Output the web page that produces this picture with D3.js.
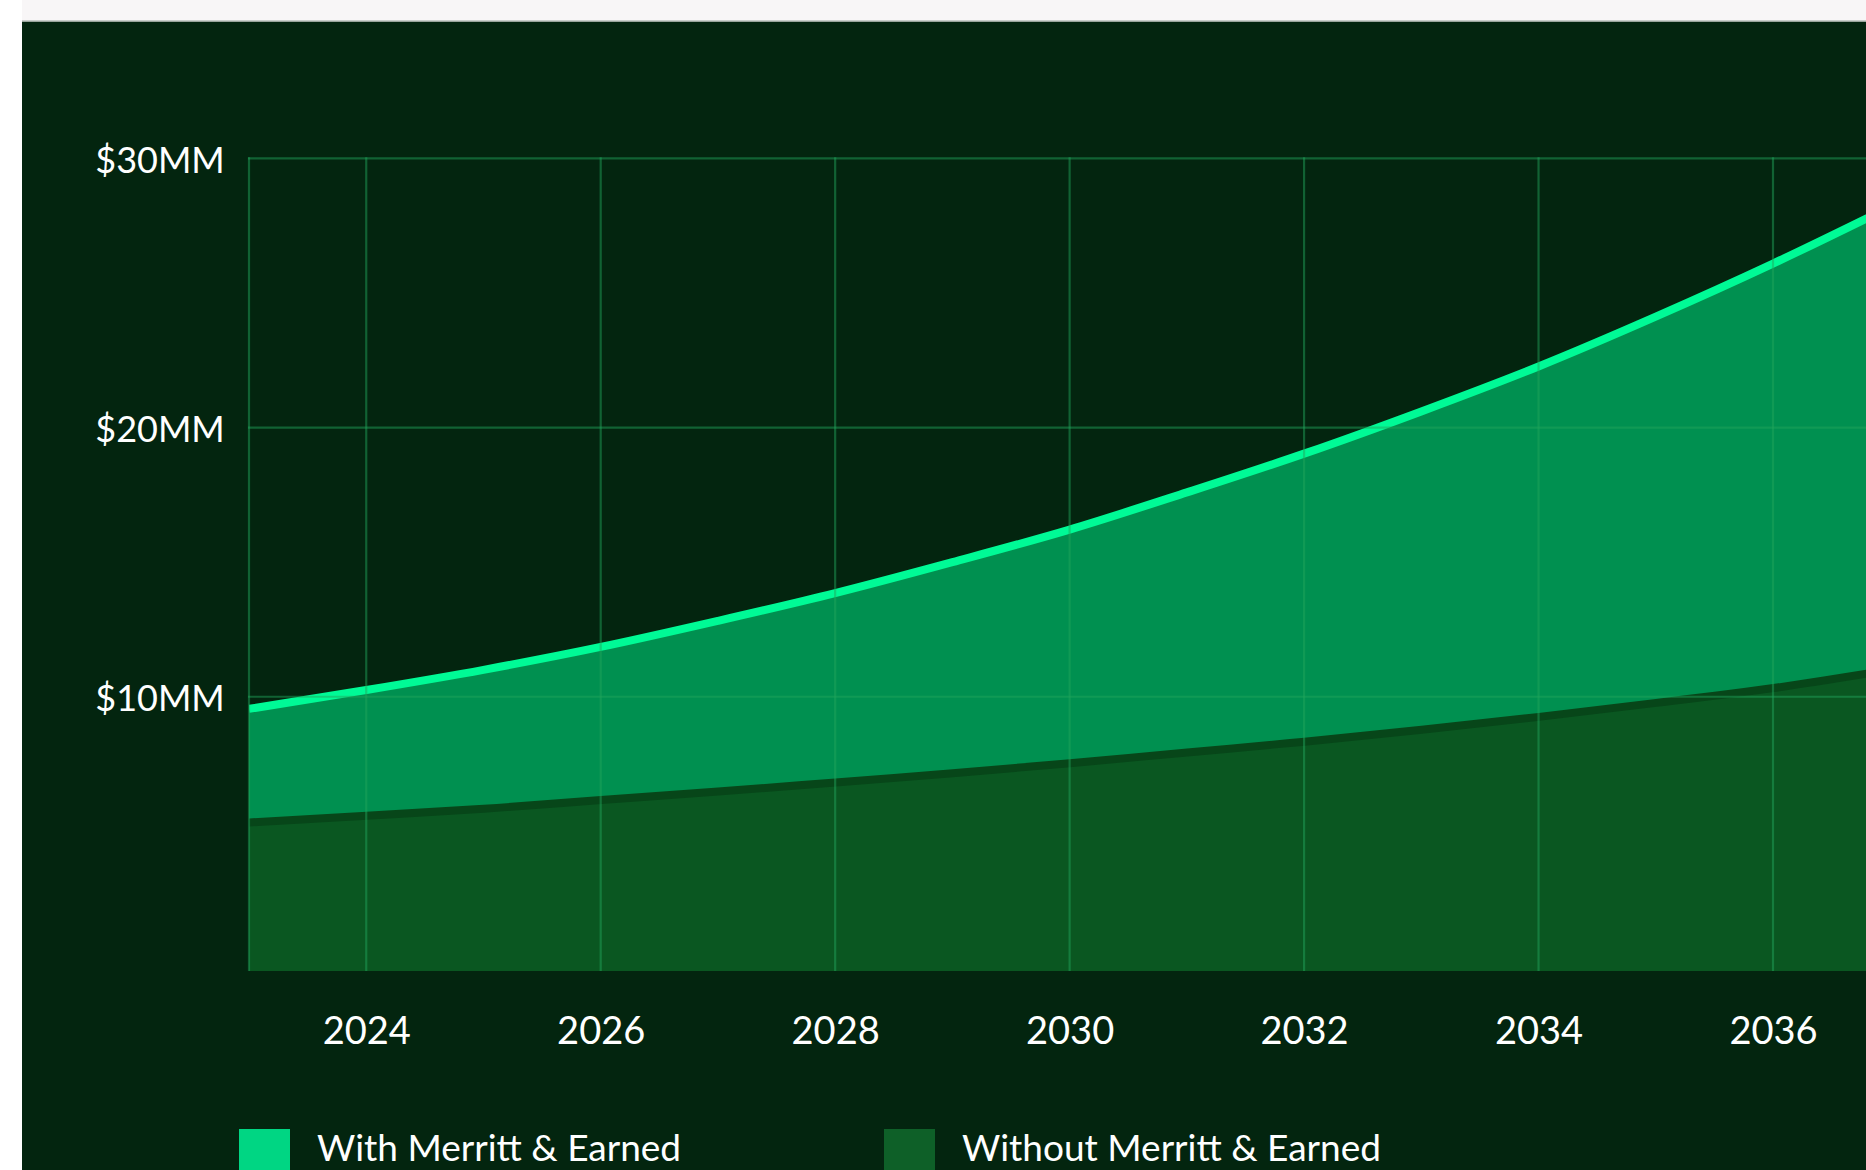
<!DOCTYPE html>
<html>
<head>
<meta charset="utf-8">
<script src="https://cdn.jsdelivr.net/npm/d3@7"></script>
<style>
  html, body { margin: 0; padding: 0; background: #ffffff; overflow: hidden; }
  svg { display: block; }
</style>
</head>
<body>
<div id="chart"></div>
<script>
// ---- Data (values in $MM) ----
const years = [2023, 2024, 2025, 2026, 2027, 2028, 2029, 2030, 2031, 2032, 2033, 2034, 2035, 2036, 2037];
const withMerritt = [9.55, 10.25, 11.0, 11.85, 12.82, 13.85, 15.0, 16.21, 17.59, 19.03, 20.6, 22.27, 24.12, 26.09, 28.2];
const withoutMerritt = [5.48, 5.73, 5.99, 6.31, 6.63, 6.96, 7.31, 7.68, 8.08, 8.48, 8.92, 9.40, 9.92, 10.47, 11.15];
const xTickValues = [2024, 2026, 2028, 2030, 2032, 2034, 2036];
const yTickValues = [10, 20, 30];
const yTickLabels = ["$10MM", "$20MM", "$30MM"];
const legendLabels = ["With Merritt & Earned", "Without Merritt & Earned"];

const W = 1866, H = 1170;
const FONT = "Lato, 'Open Sans', sans-serif";
const C = {
  bg: "#03250f",
  upperFill: "#009050",
  upperLine: "#00fa96",
  lowerFill: "#0a5721",
  lowerEdge: "#074619",
  grid: "#22a55c",
  text: "#ffffff",
  legendWith: "#00d683",
  legendWithout: "#0e6028"
};

const data = years.map((y, i) => ({ year: y, up: withMerritt[i], lo: withoutMerritt[i] }));

const svg = d3.select("#chart").append("svg")
  .attr("width", W).attr("height", H);

// page + panel background
svg.append("rect").attr("x", 0).attr("y", 0).attr("width", W).attr("height", H).attr("fill", "#ffffff");
svg.append("rect").attr("x", 22).attr("y", 0).attr("width", W - 22).attr("height", 21).attr("fill", "#f8f6f7");
svg.append("rect").attr("x", 22).attr("y", 20.5).attr("width", W - 22).attr("height", 1.5).attr("fill", "#9aa69d");
svg.append("rect").attr("x", 22).attr("y", 22).attr("width", W - 22).attr("height", H - 22).attr("fill", C.bg);

// scales
const plotBottom = 971;
const x = d3.scaleLinear().domain([2023, 2036]).range([249, 1773]);
const plotLeft = x(2023);
const y = d3.scaleLinear().domain([0, 30]).range([966, 158.3]);

svg.append("clipPath").attr("id", "plotclip")
  .append("rect").attr("x", plotLeft).attr("y", 0).attr("width", W).attr("height", plotBottom);

const g = svg.append("g").attr("clip-path", "url(#plotclip)");

const curve = d3.curveMonotoneX;

// lower area (Without)
g.append("path").datum(data)
  .attr("fill", C.lowerFill)
  .attr("d", d3.area().curve(curve).x(d => x(d.year)).y0(plotBottom).y1(d => y(d.lo)));

// darker edge along the lower series
g.append("path").datum(data)
  .attr("fill", "none")
  .attr("stroke", C.lowerEdge)
  .attr("stroke-width", 16)
  .attr("d", d3.line().curve(curve).x(d => x(d.year)).y(d => y(d.lo)));

// upper band (With, above the Without series)
g.append("path").datum(data)
  .attr("fill", C.upperFill)
  .attr("d", d3.area().curve(curve).x(d => x(d.year)).y0(d => y(d.lo)).y1(d => y(d.up)));

// gridlines
const grid = svg.append("g").attr("stroke", C.grid).attr("stroke-opacity", 0.48).attr("stroke-width", 2.2);
grid.selectAll("line.h").data(yTickValues).join("line")
  .attr("x1", plotLeft - 1).attr("x2", W)
  .attr("y1", d => y(d)).attr("y2", d => y(d));
grid.selectAll("line.v").data([2023].concat(xTickValues, [2038])).join("line")
  .attr("x1", d => x(d)).attr("x2", d => x(d))
  .attr("y1", y(30) - 1).attr("y2", plotBottom);

// upper line
g.append("path").datum(data)
  .attr("fill", "none")
  .attr("stroke", C.upperLine)
  .attr("stroke-width", 8)
  .attr("d", d3.line().curve(curve).x(d => x(d.year)).y(d => y(d.up)));

// x axis
const xAxis = svg.append("g")
  .attr("transform", `translate(0, ${plotBottom})`)
  .call(d3.axisBottom(x).tickValues(xTickValues).tickFormat(d3.format("d")).tickSize(0).tickPadding(0));
xAxis.select(".domain").remove();
xAxis.selectAll("text")
  .attr("y", 73).attr("dy", null)
  .attr("fill", C.text)
  .style("font-family", FONT).style("font-size", "38px");

// y axis
const yAxis = svg.append("g")
  .attr("transform", `translate(${plotLeft}, 0)`)
  .call(d3.axisLeft(y).tickValues(yTickValues).tickFormat((d, i) => yTickLabels[i]).tickSize(0));
yAxis.select(".domain").remove();
yAxis.selectAll("text")
  .attr("x", 160 - plotLeft).attr("dy", null).attr("y", 14)
  .attr("text-anchor", "middle")
  .attr("fill", C.text)
  .style("font-family", FONT).style("font-size", "36px");

// legend
const legendX = [239, 884];
const legendColors = [C.legendWith, C.legendWithout];
const leg = svg.append("g");
legendLabels.forEach((lab, i) => {
  leg.append("rect").attr("x", legendX[i]).attr("y", 1129).attr("width", 51).attr("height", 51).attr("fill", legendColors[i]);
  leg.append("text").attr("x", legendX[i] + 78).attr("y", 1161)
    .attr("fill", C.text)
    .style("font-family", FONT).style("font-size", "37px")
    .text(lab);
});
</script>
</body>
</html>
